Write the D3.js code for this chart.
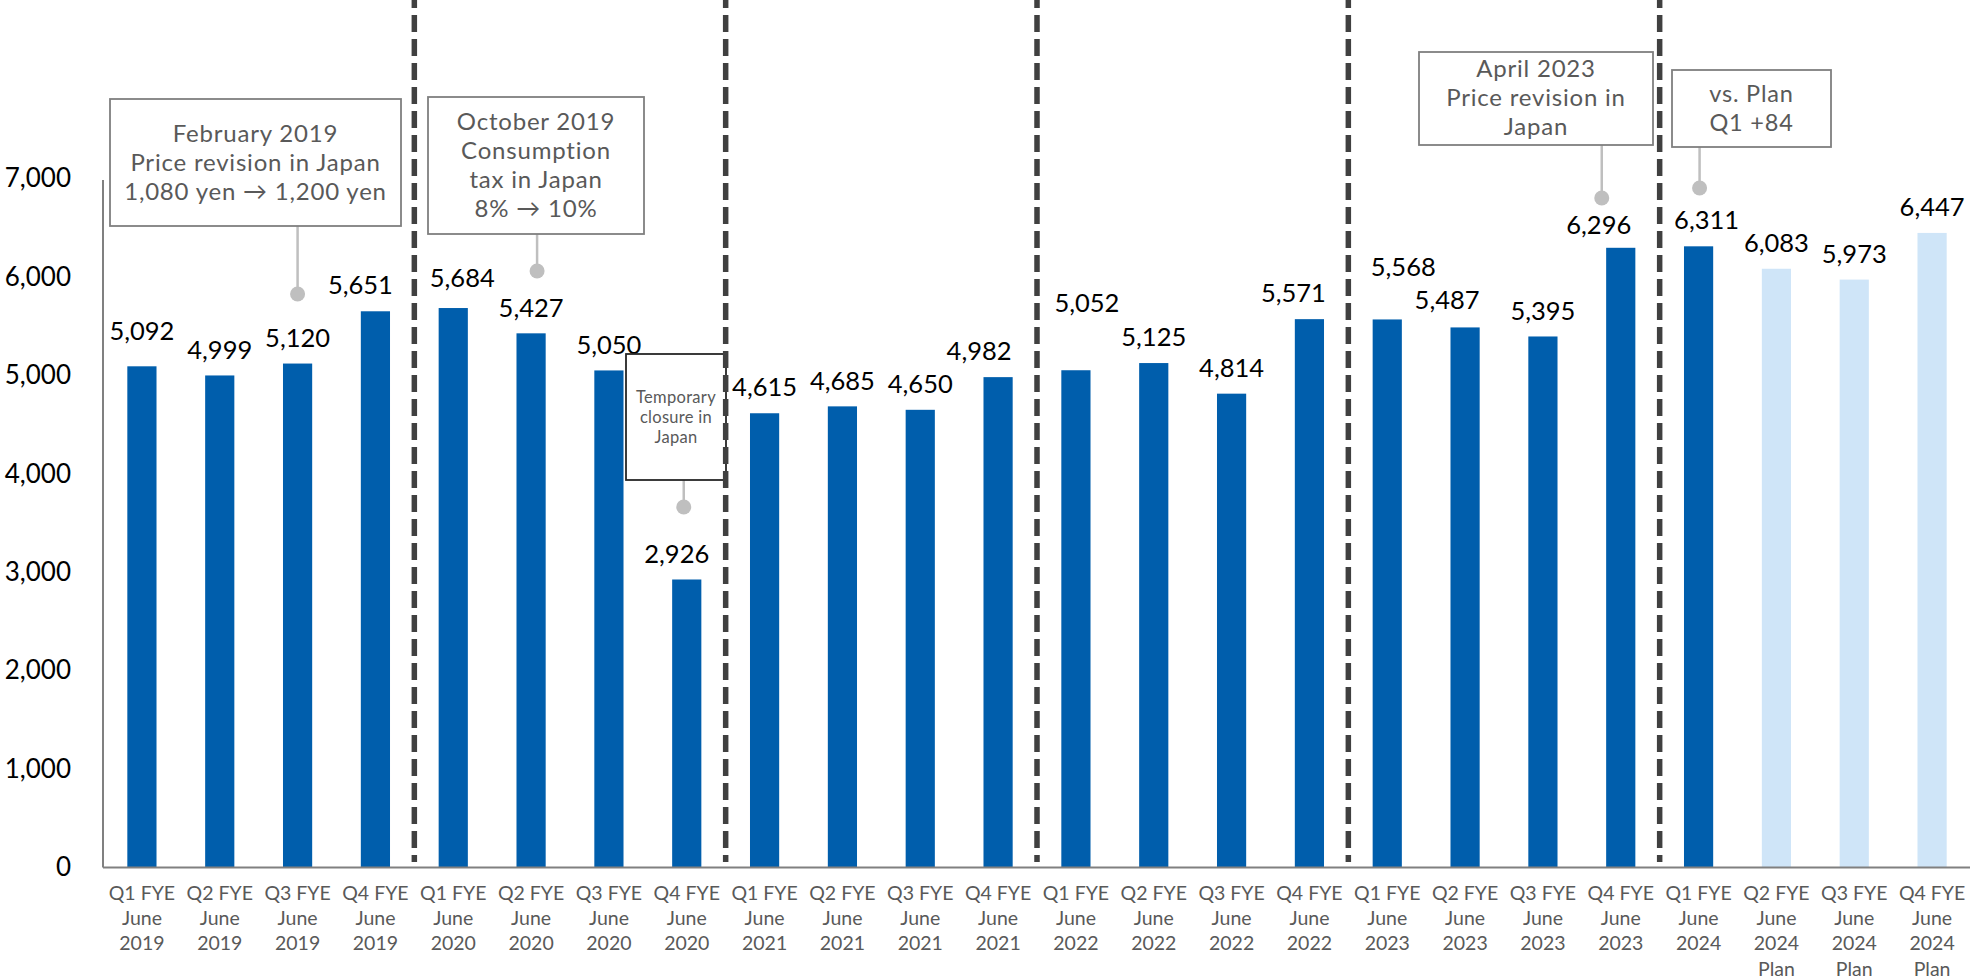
<!DOCTYPE html>
<html>
<head>
<meta charset="utf-8">
<script src="https://cdn.jsdelivr.net/npm/d3@7"></script>
<style>
  html, body { margin: 0; padding: 0; background: #ffffff; }
  svg { display: block; font-family: Lato, "Noto Sans", sans-serif; }
</style>
</head>
<body>
<svg id="chart" width="1970" height="980"></svg>
<script>
// Quarterly values, FYE June 2019 – FYE June 2024 (last three quarters are plan figures)
const categories = [
  "Q1 FYE|June|2019", "Q2 FYE|June|2019", "Q3 FYE|June|2019", "Q4 FYE|June|2019",
  "Q1 FYE|June|2020", "Q2 FYE|June|2020", "Q3 FYE|June|2020", "Q4 FYE|June|2020",
  "Q1 FYE|June|2021", "Q2 FYE|June|2021", "Q3 FYE|June|2021", "Q4 FYE|June|2021",
  "Q1 FYE|June|2022", "Q2 FYE|June|2022", "Q3 FYE|June|2022", "Q4 FYE|June|2022",
  "Q1 FYE|June|2023", "Q2 FYE|June|2023", "Q3 FYE|June|2023", "Q4 FYE|June|2023",
  "Q1 FYE|June|2024", "Q2 FYE|June|2024|Plan", "Q3 FYE|June|2024|Plan", "Q4 FYE|June|2024|Plan"
];
const values = [
  5092, 4999, 5120, 5651,
  5684, 5427, 5050, 2926,
  4615, 4685, 4650, 4982,
  5052, 5125, 4814, 5571,
  5568, 5487, 5395, 6296,
  6311, 6083, 5973, 6447
];
const isPlan = [
  false, false, false, false, false, false, false, false,
  false, false, false, false, false, false, false, false,
  false, false, false, false, false, true, true, true
];
const yTicks = [0, 1000, 2000, 3000, 4000, 5000, 6000, 7000];

// Event notes and the quarter each one points at
const noteTexts = [
  ["February 2019", "Price revision in Japan", "1,080 yen \u2192 1,200 yen"],
  ["October 2019", "Consumption", "tax in Japan", "8% \u2192 10%"],
  ["Temporary", "closure in", "Japan"],
  ["April 2023", "Price revision in", "Japan"],
  ["vs. Plan", "Q1 +84"]
];
const noteTargets = [2, 5, 7, 19, 20];

// ---- layout ----
const W = 1970, H = 980;
const plot = { left: 103, right: 1971, top: 178.5, bottom: 867.5 };
const colors = { actual: "#005EAC", plan: "#CFE5F8", axis: "#808080", sep: "#404040",
                 note: "#595959", connector: "#BFBFBF", label: "#000000" };

const svg = d3.select("#chart");

const x = d3.scaleBand()
  .domain(d3.range(categories.length))
  .range([plot.left, plot.right])
  .paddingInner(0.625)
  .paddingOuter(0.3125);
const y = d3.scaleLinear().domain([0, 7000]).range([plot.bottom, plot.top]);
const cx = i => x(i) + x.bandwidth() / 2;

// unit caption (runs off the top edge)
svg.append("text")
  .attr("x", 116).attr("y", -4)
  .attr("font-size", 24).attr("fill", "#404040")
  .text("Unit: yen");

// bars
svg.append("g").selectAll("rect")
  .data(values)
  .join("rect")
  .attr("x", (d, i) => x(i))
  .attr("width", x.bandwidth())
  .attr("y", d => y(d))
  .attr("height", d => y(0) - y(d))
  .attr("fill", (d, i) => isPlan[i] ? colors.plan : colors.actual);

// y axis: line plus tick labels on the left
const yAxis = d3.axisLeft(y).tickValues(yTicks).tickFormat(d3.format(",")).tickSize(0).tickPadding(32);
const gy = svg.append("g").attr("transform", `translate(${plot.left},0)`).call(yAxis);
gy.select(".domain").remove();
gy.selectAll("text").attr("font-size", 26).attr("fill", "#000").attr("font-family", "Lato, sans-serif");
svg.append("line")
  .attr("x1", plot.left).attr("x2", plot.left)
  .attr("y1", 180).attr("y2", plot.bottom)
  .attr("stroke", colors.axis).attr("stroke-width", 2);

// x axis baseline and multi-line category labels
const xAxis = d3.axisBottom(x).tickSize(0).tickFormat(() => "");
const gx = svg.append("g").attr("transform", `translate(0,${plot.bottom})`).call(xAxis);
gx.select(".domain").attr("stroke", colors.axis).attr("stroke-width", 2)
  .attr("d", `M${plot.left},0H${W}`);
gx.selectAll(".tick").each(function(i) {
  const t = d3.select(this).append("text")
    .attr("text-anchor", "middle")
    .attr("font-size", 19.5)
    .attr("font-family", "Lato, sans-serif")
    .attr("fill", colors.note);
  categories[i].split("|").forEach((line, k) => {
    t.append("tspan").attr("x", 0).attr("y", 32.5 + k * 25.2).text(line);
  });
});

// value labels above each bar (a few nudged to clear neighbours)
const liftDefault = 26;
const labelLift = { 0: 35, 4: 30, 12: 67, 16: 53, 17: 28, 19: 23 };
const labelShift = { 3: -15, 4: 9, 7: -10, 11: -19, 12: 11, 15: -16, 16: 16, 17: -18, 19: -22, 20: 8 };
svg.append("g").selectAll("text")
  .data(values)
  .join("text")
  .attr("x", (d, i) => cx(i) + (labelShift[i] || 0))
  .attr("y", (d, i) => y(d) - (labelLift[i] || liftDefault))
  .attr("dy", "0.36em")
  .attr("text-anchor", "middle")
  .attr("font-size", 25.5)
  .attr("fill", colors.label)
  .text(d => d3.format(",")(d));

// note boxes with connectors
const noteBoxes = [
  { x: 110, y: 99, w: 291, h: 127, fs: 24, lh: 29, first: 133, stroke: "#7F7F7F", sx: 0, dot: 294 },
  { x: 428, y: 97, w: 216, h: 137, fs: 24, lh: 29, first: 121.5, stroke: "#7F7F7F", sx: 6, dot: 271 },
  { x: 626, y: 354, w: 100, h: 126, fs: 16.5, lh: 20, first: 397, stroke: "#262626", sx: -3, dot: 507 },
  { x: 1419, y: 52, w: 234, h: 93, fs: 24, lh: 29, first: 68, stroke: "#7F7F7F", sx: -19, dot: 198 },
  { x: 1672, y: 70, w: 159, h: 77, fs: 23.5, lh: 28.5, first: 94, stroke: "#7F7F7F", sx: 1, dot: 188 }
];
const notes = svg.append("g");
noteBoxes.forEach((b, n) => {
  const px = cx(noteTargets[n]) + b.sx;
  notes.append("line")
    .attr("x1", px).attr("x2", px)
    .attr("y1", b.y + b.h).attr("y2", b.dot)
    .attr("stroke", colors.connector).attr("stroke-width", 2.5);
  notes.append("circle")
    .attr("cx", px).attr("cy", b.dot).attr("r", 7.5)
    .attr("fill", colors.connector);
  notes.append("rect")
    .attr("x", b.x).attr("y", b.y).attr("width", b.w).attr("height", b.h)
    .attr("fill", "#ffffff").attr("stroke", b.stroke).attr("stroke-width", 1.8);
  const t = notes.append("text")
    .attr("text-anchor", "middle")
    .attr("font-size", b.fs)
    .attr("letter-spacing", n === 2 ? 0.3 : 0.8)
    .attr("fill", colors.note);
  noteTexts[n].forEach((line, k) => {
    t.append("tspan")
      .attr("x", b.x + b.w / 2)
      .attr("y", b.first + k * b.lh)
      .attr("dy", "0.36em")
      .text(line);
  });
});

// dashed fiscal-year separators
const sepIdx = [3, 7, 11, 15, 19];
svg.append("g").selectAll("line")
  .data(sepIdx)
  .join("line")
  .attr("x1", i => (cx(i) + cx(i + 1)) / 2)
  .attr("x2", i => (cx(i) + cx(i + 1)) / 2)
  .attr("y1", -9).attr("y2", 862)
  .attr("stroke", colors.sep)
  .attr("stroke-width", 5.5)
  .attr("stroke-dasharray", "17 7");
</script>
</body>
</html>
